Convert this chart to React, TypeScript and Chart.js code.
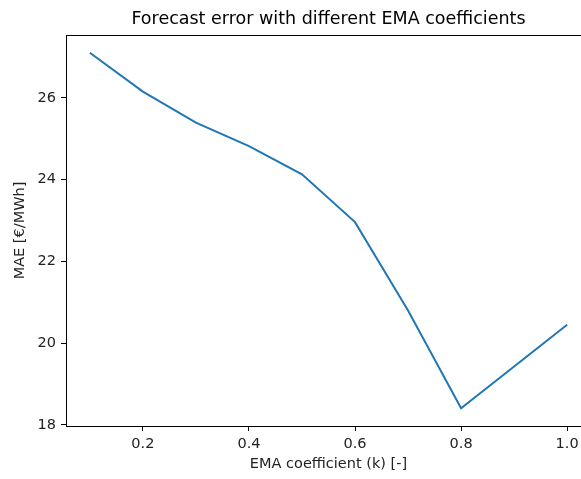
import React, { useEffect, useRef } from "react";
import { Chart, registerables } from "chart.js";

Chart.register(...registerables);

const kValues = [0.1, 0.2, 0.3, 0.4, 0.5, 0.6, 0.7, 0.8, 0.9, 1.0];
const maeValues = [27.1, 26.15, 25.39, 24.82, 24.13, 22.96, 20.8, 18.41, 19.43, 20.45];
const xTicks = [0.2, 0.4, 0.6, 0.8, 1.0];
const yTicks = [18, 20, 22, 24, 26];

const titleText = "Forecast error with different EMA coefficients";
const xLabel = "EMA coefficient (k) [-]";
const yLabel = "MAE [€/MWh]";

const FONT = "'DejaVu Sans', sans-serif";
const SMALL = 14.5;
const BIG = 17.5;

function margins(vals: number[]) {
  const lo = Math.min(...vals);
  const hi = Math.max(...vals);
  const pad = (hi - lo) * 0.05;
  return [lo - pad, hi + pad];
}

const framePlugin = {
  id: "frame",
  afterDraw(chart: any) {
    const { ctx, chartArea } = chart;
    ctx.save();
    ctx.strokeStyle = "#000";
    ctx.lineWidth = 1;
    ctx.strokeRect(
      Math.round(chartArea.left) + 0.5,
      Math.round(chartArea.top) + 0.5,
      Math.round(chartArea.right - chartArea.left),
      Math.round(chartArea.bottom - chartArea.top)
    );
    ctx.restore();
  },
};

export default function App() {
  const ref = useRef<HTMLCanvasElement | null>(null);

  useEffect(() => {
    document.body.style.margin = "0";
    if (!ref.current) return;
    const [xMin, xMax] = margins(kValues);
    const [yMin, yMax] = margins(maeValues);
    const chart = new Chart(ref.current, {
      type: "line",
      data: {
        datasets: [
          {
            data: kValues.map((k, i) => ({ x: k, y: maeValues[i] })),
            borderColor: "#1f77b4",
            borderWidth: 2,
            pointRadius: 0,
            tension: 0,
            fill: false,
          },
        ],
      },
      options: {
        animation: false,
        responsive: false,
        devicePixelRatio: 1,
        layout: { padding: 0 },
        plugins: {
          legend: { display: false },
          tooltip: { enabled: false },
          title: {
            display: true,
            fullSize: false,
            text: titleText,
            color: "#000",
            font: { family: FONT, size: BIG, weight: "normal", lineHeight: 1.2 },
            padding: { top: 9, bottom: 5 },
          },
        },
        scales: {
          x: {
            type: "linear",
            min: xMin,
            max: xMax,
            afterBuildTicks: (s: any) => {
              s.ticks = xTicks.map((v) => ({ value: v }));
            },
            afterFit: (s: any) => {
              s.height = 53;
            },
            ticks: {
              color: "#222",
              font: { family: FONT, size: SMALL },
              padding: 5,
              maxRotation: 0,
              callback: (v: any) => Number(v).toFixed(1),
            },
            grid: {
              display: true,
              drawOnChartArea: false,
              drawTicks: true,
              tickLength: 5,
              color: "#000",
            },
            border: { display: true, color: "#000", width: 1 },
            title: {
              display: true,
              text: xLabel,
              color: "#222",
              font: { family: FONT, size: SMALL },
              padding: { top: 0, bottom: 6 },
            },
          },
          y: {
            type: "linear",
            min: yMin,
            max: yMax,
            afterBuildTicks: (s: any) => {
              s.ticks = yTicks.map((v) => ({ value: v }));
            },
            afterFit: (s: any) => {
              s.width = 66;
            },
            ticks: {
              color: "#222",
              font: { family: FONT, size: SMALL },
              padding: 5,
              callback: (v: any) => String(v),
            },
            grid: {
              display: true,
              drawOnChartArea: false,
              drawTicks: true,
              tickLength: 5,
              color: "#000",
            },
            border: { display: true, color: "#000", width: 1 },
            title: {
              display: true,
              text: yLabel,
              color: "#222",
              font: { family: FONT, size: SMALL },
              padding: { top: 12, bottom: 0 },
            },
          },
        },
      },
      plugins: [framePlugin],
    });
    return () => chart.destroy();
  }, []);

  return (
    <div
      style={{
        position: "absolute",
        left: 0,
        top: 0,
        width: 581,
        height: 479,
        overflow: "hidden",
        background: "#fff",
      }}
    >
      <canvas ref={ref} width={591} height={479} style={{ display: "block" }} />
    </div>
  );
}
